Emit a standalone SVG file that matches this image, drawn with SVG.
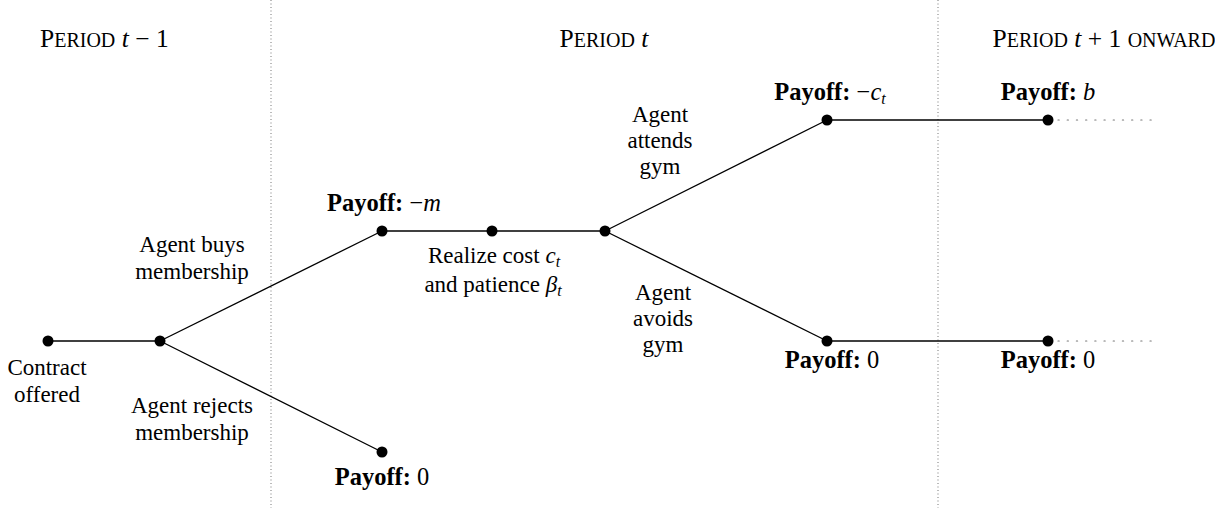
<svg xmlns="http://www.w3.org/2000/svg" width="1215" height="508" viewBox="0 0 1215 508">
  <style>
    text { font-family: "Liberation Serif", "Times New Roman", serif; font-size: 23px; fill: #000; }
    .c { text-anchor: middle; }
    .b { font-weight: bold; }
    .i { font-style: italic; }
    .head { font-size: 25.5px; }
    .sc { font-size: 20px; }
    .pay { font-size: 24.5px; }
    .sub { font-size: 16px; font-style: italic; }
    .edge { stroke: #000; stroke-width: 1.3; fill: none; }
    .divider { stroke: #777; stroke-width: 1; stroke-dasharray: 1 2.5; }
    .cont { stroke: #777; stroke-width: 1.2; stroke-dasharray: 1.2 8; stroke-linecap: round; }
    .dot { fill: #000; }
  </style>

  <!-- period dividers -->
  <g id="dividers">
    <line class="divider" x1="271" y1="0" x2="271" y2="508"/>
    <line class="divider" x1="938" y1="0" x2="938" y2="508"/>
  </g>

  <!-- period headings -->
  <g id="headings">
    <text x="40" y="47" class="head">P<tspan class="sc">ERIOD</tspan> <tspan class="i">t</tspan> − 1</text>
    <text x="604" y="47" class="c head">P<tspan class="sc">ERIOD</tspan> <tspan class="i">t</tspan></text>
    <text x="1104" y="47" class="c head">P<tspan class="sc">ERIOD</tspan> <tspan class="i">t</tspan> + 1 <tspan class="sc">ONWARD</tspan></text>
  </g>

  <!-- connectors -->
  <g id="connectors">
    <line class="edge" x1="48" y1="341" x2="160" y2="341"/>
    <line class="edge" x1="160" y1="341" x2="382" y2="231"/>
    <line class="edge" x1="160" y1="341" x2="382" y2="452"/>
    <line class="edge" x1="382" y1="231" x2="605" y2="231"/>
    <line class="edge" x1="605" y1="231" x2="827" y2="120"/>
    <line class="edge" x1="605" y1="231" x2="827" y2="341"/>
    <line class="edge" x1="827" y1="120" x2="1048" y2="120"/>
    <line class="edge" x1="827" y1="341" x2="1048" y2="341"/>
    <line class="cont" x1="1058" y1="120" x2="1155" y2="120"/>
    <line class="cont" x1="1058" y1="341" x2="1155" y2="341"/>
  </g>

  <!-- nodes -->
  <g id="contract">
    <circle class="dot" cx="48" cy="341" r="5.5"/>
    <text x="47" y="375" class="c">Contract</text>
    <text x="47" y="402" class="c">offered</text>
  </g>
  <g id="decision">
    <circle class="dot" cx="160" cy="341" r="5.5"/>
    <text x="192" y="252" class="c">Agent buys</text>
    <text x="192" y="279" class="c">membership</text>
    <text x="192" y="413" class="c">Agent rejects</text>
    <text x="192" y="440" class="c">membership</text>
  </g>
  <g id="buy">
    <circle class="dot" cx="382" cy="231" r="5.5"/>
    <text x="384" y="211" class="c pay"><tspan class="b">Payoff:</tspan> −<tspan class="i">m</tspan></text>
  </g>
  <g id="reject">
    <circle class="dot" cx="382" cy="452" r="5.5"/>
    <text x="382" y="485" class="c pay"><tspan class="b">Payoff:</tspan> 0</text>
  </g>
  <g id="realize">
    <circle class="dot" cx="492" cy="231" r="5.5"/>
    <text x="494" y="263" class="c">Realize cost <tspan class="i">c</tspan><tspan class="sub" dy="4">t</tspan></text>
    <text x="493" y="292" class="c">and patience <tspan class="i">β</tspan><tspan class="sub" dy="4">t</tspan></text>
  </g>
  <g id="choice">
    <circle class="dot" cx="605" cy="231" r="5.5"/>
    <text x="660" y="122" class="c">Agent</text>
    <text x="660" y="148" class="c">attends</text>
    <text x="660" y="174" class="c">gym</text>
    <text x="663" y="300" class="c">Agent</text>
    <text x="663" y="326" class="c">avoids</text>
    <text x="663" y="352" class="c">gym</text>
  </g>
  <g id="attend">
    <circle class="dot" cx="827" cy="120" r="5.5"/>
    <text x="830" y="100" class="c pay"><tspan class="b">Payoff:</tspan> −<tspan class="i">c</tspan><tspan class="sub" dy="4">t</tspan></text>
  </g>
  <g id="avoid">
    <circle class="dot" cx="827" cy="341" r="5.5"/>
    <text x="832" y="368" class="c pay"><tspan class="b">Payoff:</tspan> 0</text>
  </g>
  <g id="future-attend">
    <circle class="dot" cx="1048" cy="120" r="5.5"/>
    <text x="1048" y="100" class="c pay"><tspan class="b">Payoff:</tspan> <tspan class="i">b</tspan></text>
  </g>
  <g id="future-avoid">
    <circle class="dot" cx="1048" cy="341" r="5.5"/>
    <text x="1048" y="368" class="c pay"><tspan class="b">Payoff:</tspan> 0</text>
  </g>
</svg>
